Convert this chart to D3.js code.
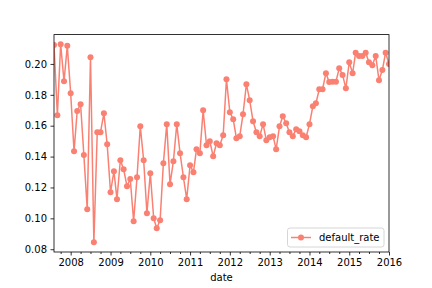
<!DOCTYPE html>
<html>
<head>
<meta charset="utf-8">
<script src="https://cdn.jsdelivr.net/npm/d3@7"></script>
<style>
  body { margin: 0; background: #fff; }
  svg { display: block; font-family: "DejaVu Sans", sans-serif; }
</style>
</head>
<body>
<svg id="chart" width="432" height="288"></svg>
<script>
const startMonth = "2007-08";
const seriesName = "default_rate";
const yTickValues = [0.08, 0.10, 0.12, 0.14, 0.16, 0.18, 0.20];
const xTickLabels = ["2008", "2009", "2010", "2011", "2012", "2013", "2014", "2015", "2016"];
const defaultRate = [
  0.2123, 0.1668, 0.2128, 0.1888, 0.2117, 0.1810, 0.1435, 0.1696, 0.1739, 0.1411,
  0.1059, 0.2043, 0.0845, 0.1558, 0.1558, 0.1680, 0.1480, 0.1169, 0.1305, 0.1124,
  0.1376, 0.1318, 0.1208, 0.1255, 0.0981, 0.1266, 0.1596, 0.1376, 0.1033, 0.1292,
  0.1001, 0.0936, 0.0988, 0.1357, 0.1610, 0.1221, 0.1370, 0.1610, 0.1422, 0.1266,
  0.1124, 0.1344, 0.1299, 0.1447, 0.1422, 0.1700, 0.1473, 0.1500, 0.1402, 0.1486,
  0.1473, 0.1538, 0.1901, 0.1687, 0.1642, 0.1519, 0.1532, 0.1674, 0.1869, 0.1765,
  0.1629, 0.1558, 0.1532, 0.1610, 0.1506, 0.1525, 0.1532, 0.1447, 0.1596, 0.1661,
  0.1616, 0.1558, 0.1532, 0.1577, 0.1564, 0.1538, 0.1525, 0.1610, 0.1726, 0.1745,
  0.1836, 0.1836, 0.1940, 0.1883, 0.1885, 0.1885, 0.1972, 0.1929, 0.1842, 0.2011,
  0.1940, 0.2073, 0.2052, 0.2052, 0.2073, 0.2011, 0.1992, 0.2052, 0.1895, 0.1960,
  0.2073, 0.2000
];

const parseMonth = d3.timeParse("%Y-%m");
const t0 = parseMonth(startMonth);
const data = defaultRate.map((v, i) => ({ date: d3.timeMonth.offset(t0, i), value: v }));

const svg = d3.select("#chart");
const mLeft = 54, mRight = 389, mTop = 34.6, mBottom = 252;
const color = "#fa8072";

const x = d3.scaleTime()
  .domain([data[0].date, data[data.length - 1].date])
  .range([mLeft, mRight]);
const y = d3.scaleLinear()
  .domain([0.0782, 0.219])
  .range([mBottom, mTop]);

svg.append("defs").append("clipPath").attr("id", "clip")
  .append("rect").attr("x", mLeft).attr("y", mTop)
  .attr("width", mRight - mLeft).attr("height", mBottom - mTop);

// line + markers
const plot = svg.append("g").attr("clip-path", "url(#clip)");
plot.append("path")
  .datum(data)
  .attr("fill", "none")
  .attr("stroke", color)
  .attr("stroke-width", 1.5)
  .attr("stroke-linejoin", "round")
  .attr("d", d3.line().x(d => x(d.date)).y(d => y(d.value)));
plot.selectAll("circle").data(data).join("circle")
  .attr("cx", d => x(d.date))
  .attr("cy", d => y(d.value))
  .attr("r", 3)
  .attr("fill", color);

// x axis major
const yearTicks = xTickLabels.map(s => d3.timeParse("%Y")(s));
svg.append("g").attr("transform", `translate(0,${mBottom})`)
  .call(d3.axisBottom(x).tickValues(yearTicks).tickFormat(d3.timeFormat("%Y"))
    .tickSize(3.5).tickPadding(3.5));
// x axis minor (quarters)
const minorTicks = d3.timeMonth.every(3).range(x.domain()[0], d3.timeDay.offset(x.domain()[1], 1))
  .filter(d => d.getMonth() !== 0);
svg.append("g").attr("transform", `translate(0,${mBottom})`)
  .call(d3.axisBottom(x).tickValues(minorTicks).tickFormat("").tickSize(2));

// y axis
svg.append("g").attr("transform", `translate(${mLeft},0)`)
  .call(d3.axisLeft(y).tickValues(yTickValues).tickFormat(d3.format(".2f"))
    .tickSize(3.5).tickPadding(3.5));

svg.selectAll(".tick text").attr("font-size", 10).attr("fill", "#000")
  .attr("font-family", "DejaVu Sans, sans-serif");
svg.selectAll(".tick line").attr("stroke", "#000").attr("stroke-width", 0.8);
svg.selectAll(".domain").remove();

// spines
svg.append("rect").attr("x", mLeft).attr("y", mTop)
  .attr("width", mRight - mLeft).attr("height", mBottom - mTop)
  .attr("fill", "none").attr("stroke", "#000").attr("stroke-width", 0.8);

// x label
svg.append("text").attr("x", (mLeft + mRight) / 2).attr("y", 281)
  .attr("text-anchor", "middle").attr("font-size", 10).attr("fill", "#000")
  .text("date");

// legend
const lg = svg.append("g");
lg.append("rect").attr("x", 287.5).attr("y", 228).attr("width", 96.5).attr("height", 19)
  .attr("rx", 2.5).attr("fill", "#fff").attr("fill-opacity", 0.8)
  .attr("stroke", "#cccccc").attr("stroke-width", 0.8);
lg.append("line").attr("x1", 291).attr("x2", 311).attr("y1", 237.5).attr("y2", 237.5)
  .attr("stroke", color).attr("stroke-width", 1.5);
lg.append("circle").attr("cx", 301).attr("cy", 237.5).attr("r", 3).attr("fill", color);
lg.append("text").attr("x", 319).attr("y", 241).attr("font-size", 10).attr("fill", "#000")
  .text(seriesName);
</script>
</body>
</html>
